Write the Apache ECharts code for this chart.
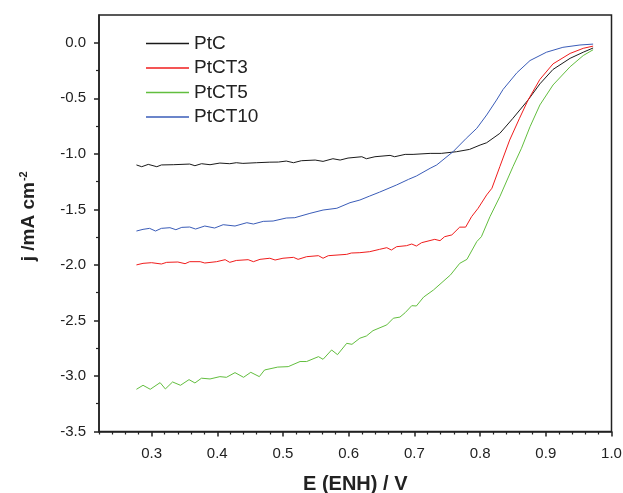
<!DOCTYPE html>
<html>
<head>
<meta charset="utf-8">
<script src="https://cdn.jsdelivr.net/npm/echarts@6/dist/echarts.min.js"></script>
<style>html,body{margin:0;padding:0;background:#fff;}#chart{width:623px;height:493px;}</style>
</head>
<body>
<div id="chart"></div>
<script>
// ---- data ----
const seriesNames = ['PtC', 'PtCT3', 'PtCT5', 'PtCT10'];

const xPtC = [0.277,0.285,0.295,0.308,0.315,0.333,0.358,0.366,0.376,0.389,0.404,0.419,0.429,0.439,0.460,0.480,0.493,0.505,0.516,0.528,0.549,0.561,0.576,0.587,0.599,0.620,0.627,0.640,0.663,0.670,0.686,0.698,0.724,0.741,0.764,0.784,0.800,0.810,0.830,0.850,0.873,0.891,0.911,0.937,0.957,0.972];
const yPtC = [-1.10,-1.116,-1.095,-1.116,-1.10,-1.098,-1.092,-1.107,-1.089,-1.098,-1.083,-1.089,-1.08,-1.086,-1.08,-1.075,-1.074,-1.065,-1.08,-1.062,-1.056,-1.068,-1.044,-1.056,-1.038,-1.026,-1.044,-1.026,-1.014,-1.026,-1.005,-1.005,-0.996,-0.996,-0.981,-0.96,-0.921,-0.90,-0.816,-0.68,-0.516,-0.37,-0.24,-0.14,-0.085,-0.047];

const xPtCT3 = [0.277,0.287,0.300,0.315,0.323,0.340,0.351,0.358,0.374,0.381,0.399,0.412,0.419,0.429,0.447,0.455,0.465,0.480,0.488,0.500,0.516,0.523,0.536,0.554,0.561,0.569,0.597,0.604,0.617,0.632,0.647,0.658,0.665,0.673,0.688,0.696,0.703,0.711,0.731,0.739,0.746,0.757,0.769,0.778,0.787,0.797,0.810,0.818,0.830,0.845,0.860,0.873,0.891,0.911,0.937,0.957,0.972];
const yPtCT3 = [-2.0,-1.986,-1.98,-1.992,-1.977,-1.974,-1.989,-1.971,-1.971,-1.983,-1.971,-1.953,-1.977,-1.96,-1.953,-1.971,-1.95,-1.94,-1.956,-1.94,-1.932,-1.95,-1.926,-1.917,-1.94,-1.917,-1.905,-1.893,-1.89,-1.881,-1.86,-1.845,-1.866,-1.836,-1.827,-1.812,-1.83,-1.80,-1.77,-1.782,-1.746,-1.73,-1.66,-1.66,-1.566,-1.49,-1.37,-1.31,-1.116,-0.876,-0.68,-0.516,-0.33,-0.19,-0.096,-0.05,-0.03];

const xPtCT5 = [0.277,0.287,0.298,0.313,0.321,0.332,0.344,0.357,0.366,0.376,0.389,0.404,0.414,0.427,0.440,0.451,0.464,0.472,0.492,0.508,0.526,0.536,0.554,0.561,0.574,0.583,0.597,0.605,0.617,0.627,0.637,0.658,0.668,0.678,0.686,0.696,0.703,0.714,0.729,0.755,0.769,0.780,0.795,0.802,0.815,0.830,0.850,0.863,0.876,0.891,0.911,0.937,0.957,0.972];
const yPtCT5 = [-3.12,-3.084,-3.12,-3.06,-3.117,-3.054,-3.084,-3.033,-3.063,-3.02,-3.027,-3.006,-3.012,-2.97,-3.012,-2.967,-3.006,-2.946,-2.92,-2.916,-2.87,-2.87,-2.826,-2.85,-2.766,-2.808,-2.706,-2.715,-2.66,-2.64,-2.592,-2.54,-2.48,-2.47,-2.43,-2.367,-2.37,-2.29,-2.226,-2.09,-1.986,-1.95,-1.79,-1.746,-1.566,-1.386,-1.116,-0.95,-0.756,-0.56,-0.38,-0.216,-0.115,-0.063];

const xPtCT10 = [0.277,0.287,0.297,0.306,0.315,0.328,0.337,0.346,0.358,0.367,0.381,0.396,0.409,0.427,0.445,0.455,0.470,0.485,0.505,0.518,0.541,0.561,0.582,0.602,0.617,0.632,0.647,0.673,0.691,0.703,0.724,0.734,0.759,0.779,0.795,0.810,0.825,0.835,0.856,0.876,0.901,0.926,0.952,0.972];
const yPtCT10 = [-1.695,-1.68,-1.671,-1.695,-1.671,-1.665,-1.683,-1.662,-1.659,-1.677,-1.65,-1.668,-1.638,-1.65,-1.62,-1.632,-1.608,-1.605,-1.578,-1.575,-1.536,-1.506,-1.49,-1.44,-1.416,-1.38,-1.345,-1.28,-1.23,-1.20,-1.13,-1.10,-0.98,-0.86,-0.77,-0.65,-0.516,-0.42,-0.27,-0.16,-0.085,-0.041,-0.02,-0.012];

const xMajorTicks = [0.3,0.4,0.5,0.6,0.7,0.8,0.9,1.0];
const xMinorTicks = [0.22,0.24,0.26,0.28,0.32,0.34,0.36,0.38,0.42,0.44,0.46,0.48,0.52,0.54,0.56,0.58,0.62,0.64,0.66,0.68,0.72,0.74,0.76,0.78,0.82,0.84,0.86,0.88,0.92,0.94,0.96,0.98];
const yMajorTicks = [-3.5,-3.0,-2.5,-2.0,-1.5,-1.0,-0.5,0.0];
const yMinorTicks = [-3.25,-2.75,-2.25,-1.75,-1.25,-0.75,-0.25];

const colors = ['#1a1a1a', '#f01c1c', '#62be3e', '#3a5cb8'];

// ---- chart ----
const zip = (xs, ys) => xs.map((x, i) => [x, ys[i]]);
const allData = [zip(xPtC, yPtC), zip(xPtCT3, yPtCT3), zip(xPtCT5, yPtCT5), zip(xPtCT10, yPtCT10)];

const FONT = 'Liberation Sans, Arial, sans-serif';
const AX = '#222';
const X_MIN = 0.22, X_MAX = 1.0, Y_MIN = -3.5, Y_MAX = 0.25;

const chart = echarts.init(document.getElementById('chart'), null, {renderer: 'canvas'});
chart.setOption({
  animation: false,
  backgroundColor: '#fff',
  color: colors,
  grid: {left: 99, right: 11.5, top: 15, bottom: 61.5, containLabel: false, outerBoundsMode: 'none',
         show: true, borderColor: AX, borderWidth: 1.5, backgroundColor: 'transparent'},
  legend: {
    orient: 'vertical', left: 146, top: 34, padding: 0,
    icon: 'rect', itemWidth: 43, itemHeight: 1.3, itemGap: 5.5,
    data: seriesNames,
    textStyle: {fontFamily: FONT, fontSize: 19, color: '#222', lineHeight: 19}
  },
  xAxis: [
    {
      type: 'value', min: X_MIN, max: X_MAX, position: 'bottom',
      name: 'E (ENH) / V', nameLocation: 'middle', nameGap: 43,
      nameTextStyle: {fontFamily: FONT, fontSize: 20, fontWeight: 'bold', color: '#222', lineHeight: 20},
      axisLine: {show: true, onZero: false, lineStyle: {color: AX, width: 1.5}},
      axisTick: {show: true, inside: false, length: 5, customValues: xMajorTicks, lineStyle: {color: AX, width: 1.5}},
      axisLabel: {customValues: xMajorTicks, margin: 15, fontFamily: FONT, fontSize: 15, color: '#222', formatter: v => v.toFixed(1)},
      splitLine: {show: false}
    },
    {
      type: 'value', min: X_MIN, max: X_MAX, position: 'bottom',
      axisLine: {show: false, onZero: false},
      axisTick: {show: true, inside: false, length: 3, customValues: xMinorTicks, lineStyle: {color: AX, width: 1.2}},
      axisLabel: {show: false},
      splitLine: {show: false}
    }
  ],
  yAxis: [
    {
      type: 'value', min: Y_MIN, max: Y_MAX, position: 'left',
      name: '{m|j /mA cm}{s|-2}', nameLocation: 'middle', nameGap: 60, nameRotate: 90,
      nameTextStyle: {
        fontFamily: FONT, fontSize: 19, fontWeight: 'bold', color: '#222',
        padding: [0, 0, 0, 14],
        rich: {
          m: {fontFamily: FONT, fontSize: 19, fontWeight: 'bold', color: '#222'},
          s: {fontFamily: FONT, fontSize: 11, fontWeight: 'bold', color: '#222', verticalAlign: 'top', padding: [0, 0, 10, 1]}
        }
      },
      axisLine: {show: true, onZero: false, lineStyle: {color: AX, width: 1.5}},
      axisTick: {show: true, inside: false, length: 5, customValues: yMajorTicks, lineStyle: {color: AX, width: 1.5}},
      axisLabel: {customValues: yMajorTicks, margin: 13, fontFamily: FONT, fontSize: 15, color: '#222', formatter: v => v.toFixed(1)},
      splitLine: {show: false}
    },
    {
      type: 'value', min: Y_MIN, max: Y_MAX, position: 'left',
      axisLine: {show: false, onZero: false},
      axisTick: {show: true, inside: false, length: 3, customValues: yMinorTicks, lineStyle: {color: AX, width: 1.2}},
      axisLabel: {show: false},
      splitLine: {show: false}
    }
  ],
  series: seriesNames.map((name, i) => ({
    name: name,
    type: 'line',
    xAxisIndex: 0, yAxisIndex: 0,
    data: allData[i],
    symbol: 'none',
    showSymbol: false,
    lineStyle: {width: 1, color: colors[i]},
    itemStyle: {color: colors[i]}
  }))
});
</script>
</body>
</html>
